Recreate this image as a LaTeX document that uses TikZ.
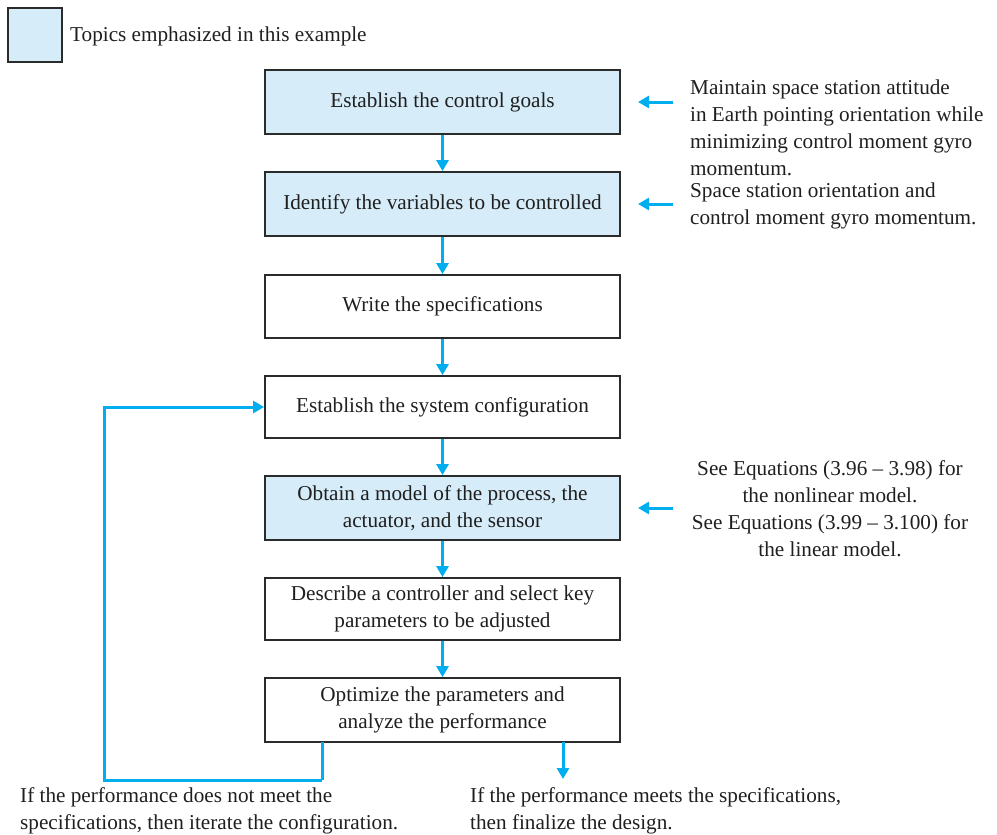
\documentclass[tikz,border=0pt]{standalone}
\usepackage{fontspec}
\setmainfont{Liberation Serif}
\usetikzlibrary{arrows.meta}
\definecolor{emph}{HTML}{D6ECF9}
\definecolor{arr}{HTML}{00AEEF}
\definecolor{edge}{HTML}{2B2B2B}
\begin{document}
\begin{tikzpicture}[x=1pt,y=-1pt,
  every node/.style={font=\fontsize{21.2}{27}\selectfont, text=black!88},
  stepbox/.style={draw=edge, line width=1.8pt, minimum width=355pt, inner sep=0pt, align=center},
  hl/.style={fill=emph},
  flow/.style={draw=arr, line width=3pt, -{Triangle[length=11pt,width=12pt]}},
  side/.style={align=left, anchor=north west, inner sep=0pt}]
\useasboundingbox (0,0) rectangle (997,835);
% legend
\node[draw=edge, line width=1.8pt, fill=emph, minimum width=54pt, minimum height=54pt, inner sep=0pt] (leg) at (35,35) {};
\node[anchor=west, inner sep=0pt] (legt) at (70,36) {Topics emphasized in this example};
% boxes
\node[stepbox, hl, minimum height=64pt] (b1) at (442.5,102) {Establish the control goals};
\node[stepbox, hl, minimum height=64pt] (b2) at (442.5,204) {Identify the variables to be controlled};
\node[stepbox, minimum height=63pt] (b3) at (442.5,306.5) {Write the specifications};
\node[stepbox, minimum height=62pt] (b4) at (442.5,407) {Establish the system configuration};
\node[stepbox, hl, minimum height=64pt] (b5) at (442.5,508) {Obtain a model of the process, the\\actuator, and the sensor};
\node[stepbox, minimum height=62pt] (b6) at (442.5,609) {Describe a controller and select key\\parameters to be adjusted};
\node[stepbox, minimum height=64pt] (b7) at (442.5,710) {Optimize the parameters and\\analyze the performance};
% vertical flow
\draw[flow] (b1) -- (b2);
\draw[flow] (b2) -- (b3);
\draw[flow] (b3) -- (b4);
\draw[flow] (b4) -- (b5);
\draw[flow] (b5) -- (b6);
\draw[flow] (b6) -- (b7);
% side notes
\node[side] (n1) at (690,80) {Maintain space station attitude\\in Earth pointing orientation while\\minimizing control moment gyro\\momentum.};
\node[side] (n2) at (690,183) {Space station orientation and\\control moment gyro momentum.};
\node[align=center, inner sep=0pt] (n3) at (830,509) {See Equations (3.96 -- 3.98) for\\the nonlinear model.\\See Equations (3.99 -- 3.100) for\\the linear model.};
\coordinate (s1) at (673,102);
\coordinate (s2) at (673,204);
\coordinate (s3) at (673,508);
\coordinate (e1) at (638,102);
\coordinate (e2) at (638,204);
\coordinate (e3) at (638,508);
\draw[flow] (s1) -- (e1);
\draw[flow] (s2) -- (e2);
\draw[flow] (s3) -- (e3);
% feedback
\coordinate (fb0) at (322,742);
\coordinate (fb1) at (322,780);
\coordinate (fb2) at (104,780);
\coordinate (fb3) at (104,407);
\draw[flow, -] (fb0) -- (fb1);
\draw[flow] (fb1) -- (fb2) -- (fb3) -- (b4.west);
% exit
\coordinate (x0) at (563,742);
\coordinate (x1) at (563,779);
\draw[flow] (x0) -- (x1);
% bottom texts
\node[side] (t1) at (20,787.5) {If the performance does not meet the\\specifications, then iterate the configuration.};
\node[side] (t2) at (470,787.5) {If the performance meets the specifications,\\then finalize the design.};
\end{tikzpicture}
\end{document}
